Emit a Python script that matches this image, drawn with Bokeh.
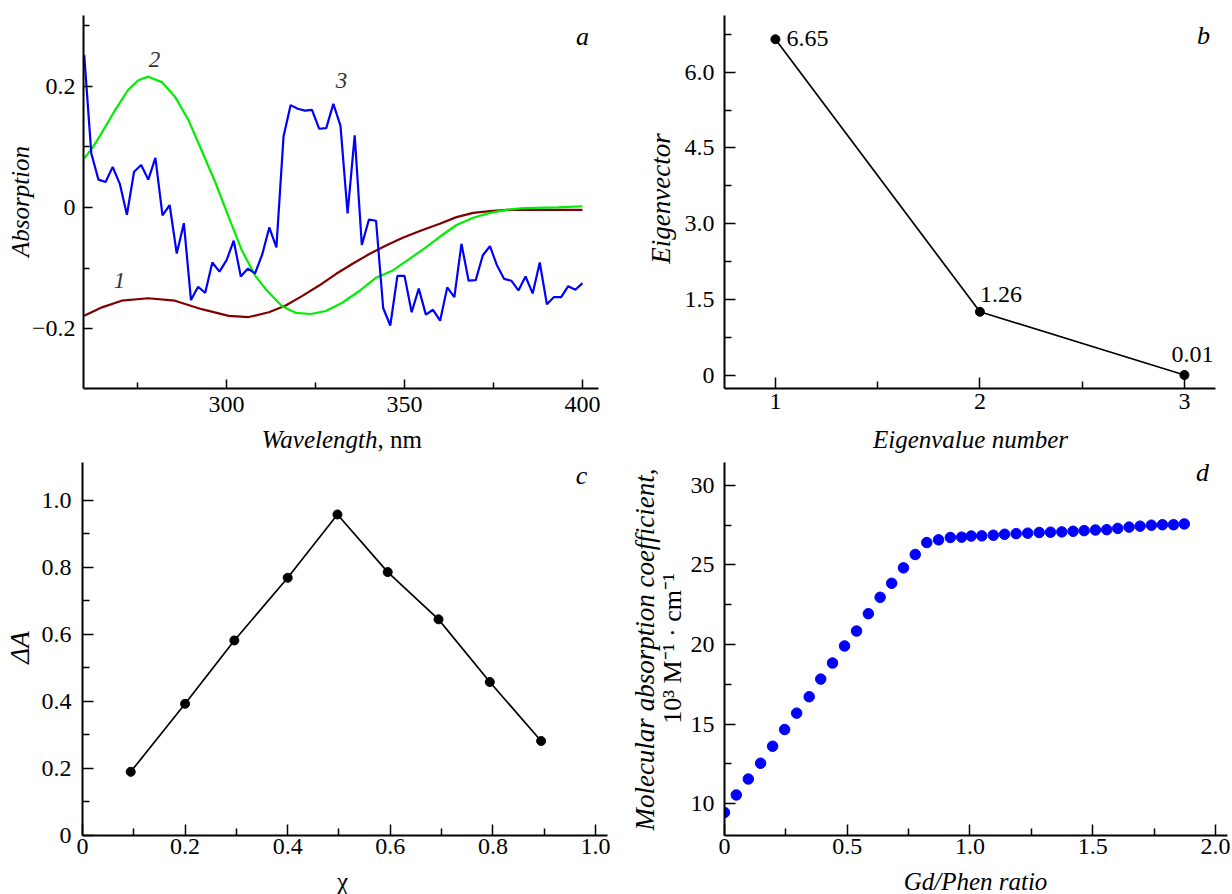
import math
from bokeh.plotting import figure
from bokeh.models import Range1d, FixedTicker, CustomJSTickFormatter, Label
from bokeh.layouts import row, column
from bokeh.embed import file_html
from bokeh.resources import INLINE

# ---------------- data ----------------
# panel a: absorption spectra
curve1_wl = [260, 265, 270.5, 278, 285.5, 293, 300.6, 306.2, 311.9, 316.6, 321.3, 326,
             330.7, 335.4, 340.1, 344.8, 349.5, 354.3, 359.9, 364.6, 369.3, 374, 378.7, 390, 400]
curve1_abs = [-0.179, -0.165, -0.154, -0.150, -0.154, -0.168, -0.179, -0.181, -0.173, -0.162,
              -0.146, -0.129, -0.110, -0.093, -0.077, -0.063, -0.050, -0.039, -0.027, -0.016,
              -0.009, -0.006, -0.004, -0.004, -0.004]
curve2_wl = [260, 262.5, 264.8, 268.6, 272.3, 275.2, 278, 281.8, 285.5, 289.3, 293, 296.8,
             300.6, 304.3, 308.1, 311, 315.6, 319.4, 323.6, 327.9, 332.6, 337.3, 342, 346.7,
             351.4, 356, 360, 364.6, 369.3, 374, 378.7, 383.4, 393, 400]
curve2_abs = [0.081, 0.100, 0.122, 0.160, 0.194, 0.210, 0.216, 0.207, 0.183, 0.144, 0.094, 0.042,
              -0.016, -0.071, -0.113, -0.135, -0.163, -0.174, -0.176, -0.171, -0.157, -0.138,
              -0.116, -0.104, -0.085, -0.066, -0.048, -0.029, -0.017, -0.009, -0.004, -0.001,
              0.000, 0.002]
curve3_wl = [260, 262, 264, 266, 268, 270, 272, 274, 276, 278,
             280, 282, 284, 286, 288, 290, 292, 294, 296, 298,
             300, 302, 304, 306, 308, 310, 312, 314, 316, 318,
             320, 322, 324, 326, 328, 330, 332, 334, 336, 338,
             340, 342, 344, 346, 348, 350, 352, 354, 356, 358,
             360, 362, 364, 366, 368, 370, 372, 374, 376, 378,
             380, 382, 384, 386, 388, 390, 392, 394, 396, 398,
             400]
curve3_abs = [0.252, 0.089, 0.046, 0.042, 0.067, 0.039, -0.012, 0.059, 0.070, 0.046,
              0.082, -0.013, 0.004, -0.076, -0.026, -0.153, -0.131, -0.141, -0.091, -0.106,
              -0.087, -0.055, -0.114, -0.101, -0.109, -0.078, -0.033, -0.066, 0.117, 0.169,
              0.163, 0.160, 0.161, 0.130, 0.131, 0.171, 0.135, -0.010, 0.119, -0.062,
              -0.020, -0.022, -0.166, -0.195, -0.113, -0.113, -0.173, -0.134, -0.177, -0.169,
              -0.187, -0.132, -0.148, -0.060, -0.121, -0.120, -0.079, -0.064, -0.096, -0.118,
              -0.121, -0.137, -0.114, -0.142, -0.091, -0.160, -0.148, -0.148, -0.130, -0.136,
              -0.125]

# panel b: eigenvalues
eig_number = [1, 2, 3]
eig_value = [6.65, 1.26, 0.01]

# panel c: Job plot
chi = [0.094, 0.2, 0.296, 0.4, 0.497, 0.595, 0.694, 0.794, 0.894]
delta_a = [0.19, 0.393, 0.582, 0.769, 0.958, 0.786, 0.645, 0.458, 0.282]

# panel d: titration
ratio = [0.0, 0.048, 0.097, 0.147, 0.196, 0.245, 0.294, 0.345, 0.392, 0.44, 0.489,
         0.538, 0.586, 0.634, 0.681, 0.729, 0.777, 0.824, 0.872, 0.92, 0.966,
         1.005, 1.048, 1.095, 1.141, 1.188, 1.235, 1.282, 1.328, 1.374, 1.420,
         1.465, 1.511, 1.557, 1.602, 1.648, 1.693, 1.739, 1.784, 1.829, 1.873]
coeff = [9.45, 10.55, 11.55, 12.54, 13.61, 14.66, 15.69, 16.72, 17.83, 18.84, 19.91,
         20.85, 21.94, 22.97, 23.85, 24.82, 25.66, 26.41, 26.58, 26.73, 26.75,
         26.82, 26.83, 26.87, 26.93, 26.97, 27.0, 27.04, 27.06, 27.08, 27.12,
         27.16, 27.2, 27.22, 27.3, 27.38, 27.44, 27.5, 27.53, 27.53, 27.58]

# ---------------- helpers ----------------
FONT = "Liberation Serif"

FMT_INT = CustomJSTickFormatter(code="return tick.toFixed(0);")
FMT_ONE = CustomJSTickFormatter(code="return Math.abs(tick) < 1e-9 ? '0' : tick.toFixed(1);")
FMT_MINUS = CustomJSTickFormatter(
    code="if (Math.abs(tick) < 1e-9) return '0'; return (tick < 0 ? '\u2212' : '') + Math.abs(tick).toFixed(1);")


def make_fig(w, h, xr, yr, bl, br, bt, bb):
    p = figure(width=w, height=h, x_range=Range1d(*xr), y_range=Range1d(*yr),
               output_backend="svg", toolbar_location=None, tools="",
               min_border_left=bl, min_border_right=br, min_border_top=bt, min_border_bottom=bb)
    p.xgrid.visible = False
    p.ygrid.visible = False
    p.outline_line_color = None
    p.background_fill_color = "white"
    p.border_fill_color = "white"
    return p


def style(p, xt, xm, yt, ym, xfmt, yfmt, maj, mnr, xst, yst):
    p.xaxis.ticker = FixedTicker(ticks=xt, minor_ticks=xm)
    p.yaxis.ticker = FixedTicker(ticks=yt, minor_ticks=ym)
    p.xaxis.formatter = xfmt
    p.yaxis.formatter = yfmt
    for ax in (p.xaxis[0], p.yaxis[0]):
        ax.axis_line_width = 2
        ax.axis_line_color = "black"
        ax.major_tick_in = maj
        ax.major_tick_out = 0
        ax.minor_tick_in = mnr
        ax.minor_tick_out = 0
        ax.major_tick_line_width = 1.5
        ax.minor_tick_line_width = 1.5
        ax.major_tick_line_color = "black"
        ax.minor_tick_line_color = "black"
        ax.major_label_text_font = FONT
        ax.major_label_text_font_size = "24px"
        ax.major_label_text_color = "black"
    p.xaxis.major_label_standoff = xst
    p.yaxis.major_label_standoff = yst


def put(p, box, xr, yr, px, py, text, size, italic=False, align="center",
        baseline="middle", angle=0.0, color="black", side=None):
    """Place a text at a page-pixel position (converted to the panel's data units)."""
    L, T, R, B = box
    x = xr[0] + (px - L) / (R - L) * (xr[1] - xr[0])
    y = yr[1] - (py - T) / (B - T) * (yr[1] - yr[0])
    lab = Label(x=x, y=y, text=text, text_font=FONT, text_font_size=f"{size}px",
                text_font_style="italic" if italic else "normal",
                text_align=align, text_baseline=baseline, angle=angle,
                text_color=color)
    if side is None:
        p.add_layout(lab)
    else:
        p.add_layout(lab, side)


HALF_PI = math.pi / 2
X_SPLIT_TOP = 644
X_SPLIT_BOT = 625
Y_SPLIT = 455
PAGE_W = 1232
PAGE_H = 894

# ---------------- panel a ----------------
a_box = (83, 15, 598, 388)
a_xr = (259.8, 404.5)
a_yr = (-0.299, 0.317)
pa = make_fig(X_SPLIT_TOP, Y_SPLIT, a_xr, a_yr, a_box[0], X_SPLIT_TOP - a_box[2],
              a_box[1], Y_SPLIT - a_box[3])
style(pa, [300, 350, 400], [275, 325, 375], [-0.2, 0, 0.2], [-0.1, 0.1, 0.3],
      FMT_INT, FMT_MINUS, 9, 6, 8, 8)
pa.line(curve1_wl, curve1_abs, line_color="#800000", line_width=2.2)
pa.line(curve2_wl, curve2_abs, line_color="#00ee00", line_width=2.2)
pa.line(curve3_wl, curve3_abs, line_color="#0000ff", line_width=2.2)
put(pa, a_box, a_xr, a_yr, 582, 36, "a", 26, italic=True)
put(pa, a_box, a_xr, a_yr, 119, 280, "1", 23, italic=True, color="#333333")
put(pa, a_box, a_xr, a_yr, 154, 59, "2", 23, italic=True, color="#333333")
put(pa, a_box, a_xr, a_yr, 341, 80, "3", 23, italic=True, color="#333333")
put(pa, a_box, a_xr, a_yr, 20, 201, "Absorption", 25, italic=True, angle=HALF_PI, side="left")
put(pa, a_box, a_xr, a_yr, 377, 439, "Wavelength", 25, italic=True, align="right",
    baseline="alphabetic", side="below")
put(pa, a_box, a_xr, a_yr, 377, 439, ", nm", 25, align="left", baseline="alphabetic",
    side="right")

# ---------------- panel b ----------------
b_box = (724, 15, 1215, 388)
b_xr = (0.751, 3.152)
b_yr = (-0.257, 7.12)
pb = make_fig(PAGE_W - X_SPLIT_TOP, Y_SPLIT, b_xr, b_yr, b_box[0] - X_SPLIT_TOP,
              PAGE_W - b_box[2], b_box[1], Y_SPLIT - b_box[3])
style(pb, [1, 2, 3], [1.5, 2.5], [0, 1.5, 3.0, 4.5, 6.0], [0.75, 2.25, 3.75, 5.25, 6.75],
      FMT_INT, FMT_ONE, 11, 7, 5, 10)
pb.line(eig_number, eig_value, line_color="black", line_width=1.7)
pb.scatter(eig_number, eig_value, size=9, color="black")
b_offsets = [(11, 1, "left"), (0, 17, "left"), (8, 20, "center")]
for xv, yv, (dx, dy, al) in zip(eig_number, eig_value, b_offsets):
    pb.add_layout(Label(x=xv, y=yv, x_offset=dx, y_offset=dy, text=f"{yv:.2f}",
                        text_font=FONT, text_font_size="24px", text_align=al,
                        text_baseline="middle", text_color="black"))
put(pb, b_box, b_xr, b_yr, 1203, 35, "b", 26, italic=True)
put(pb, b_box, b_xr, b_yr, 660, 198, "Eigenvector", 27, italic=True, angle=HALF_PI, side="left")
put(pb, b_box, b_xr, b_yr, 970, 439, "Eigenvalue number", 25, italic=True,
    baseline="alphabetic", side="below")

# ---------------- panel c ----------------
c_box = (82, 462, 607, 835)
c_xr = (0.0, 1.0234)
c_yr = (0.0, 1.113)
pc = make_fig(X_SPLIT_BOT, PAGE_H - Y_SPLIT, c_xr, c_yr, c_box[0], X_SPLIT_BOT - c_box[2],
              c_box[1] - Y_SPLIT, PAGE_H - c_box[3])
style(pc, [0, 0.2, 0.4, 0.6, 0.8, 1.0], [0.1, 0.3, 0.5, 0.7, 0.9],
      [0, 0.2, 0.4, 0.6, 0.8, 1.0], [0.1, 0.3, 0.5, 0.7, 0.9],
      FMT_ONE, FMT_ONE, 11, 7, 3, 11)
pc.line(chi, delta_a, line_color="black", line_width=1.7)
pc.scatter(chi, delta_a, size=9, color="black")
put(pc, c_box, c_xr, c_yr, 581, 475, "c", 26, italic=True)
put(pc, c_box, c_xr, c_yr, 19, 647, "\u0394A", 27, italic=True, angle=HALF_PI, side="left")
put(pc, c_box, c_xr, c_yr, 342, 881, "\u03c7", 25, baseline="alphabetic", side="below")

# ---------------- panel d ----------------
d_box = (724, 462, 1227, 835)
d_xr = (0.0, 2.049)
d_yr = (8.0, 31.44)
pd_ = make_fig(PAGE_W - X_SPLIT_BOT, PAGE_H - Y_SPLIT, d_xr, d_yr, d_box[0] - X_SPLIT_BOT,
               PAGE_W - d_box[2], d_box[1] - Y_SPLIT, PAGE_H - d_box[3])
style(pd_, [0, 0.5, 1.0, 1.5, 2.0], [0.25, 0.75, 1.25, 1.75],
      [10, 15, 20, 25, 30], [12.5, 17.5, 22.5, 27.5],
      FMT_ONE, FMT_INT, 11, 7, 3, 10)
pd_.scatter(ratio, coeff, size=10.5, color="#0000ff")
put(pd_, d_box, d_xr, d_yr, 1202, 472, "d", 26, italic=True)
put(pd_, d_box, d_xr, d_yr, 644, 649, "Molecular absorption coefficient,", 27, italic=True,
    angle=HALF_PI, side="left")
put(pd_, d_box, d_xr, d_yr, 672, 648, "10\u00b3 M\u207b\u00b9 \u00b7 cm\u207b\u00b9", 26,
    angle=HALF_PI, side="left")
put(pd_, d_box, d_xr, d_yr, 975, 881, "Gd/Phen ratio", 25, italic=True,
    baseline="alphabetic", side="below")

layout = column(row(pa, pb), row(pc, pd_))

open("out.html", "w").write(file_html(layout, INLINE))
